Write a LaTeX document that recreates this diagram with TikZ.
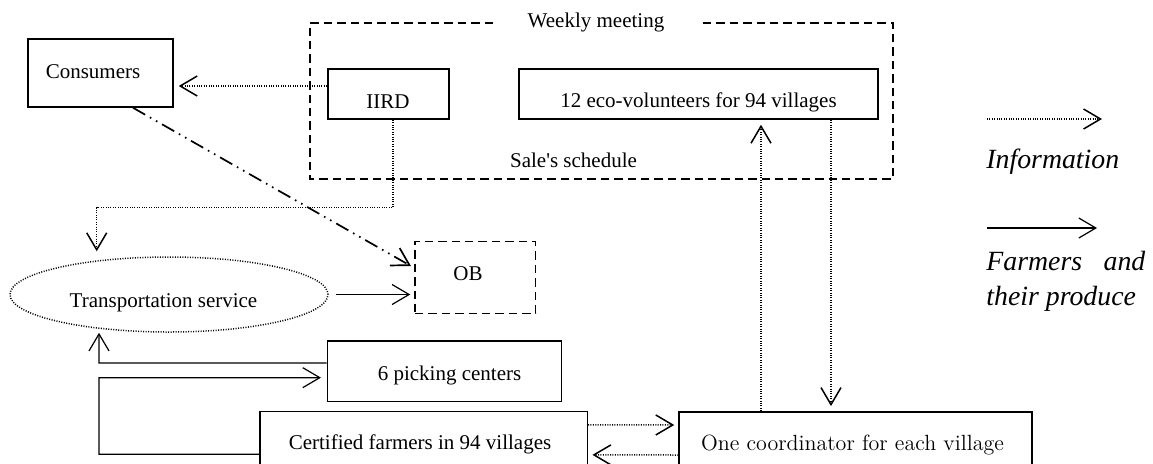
\documentclass[tikz,border=0pt]{standalone}
\usepackage{fontspec}
\newfontfamily\tnr{Liberation Serif}
\usetikzlibrary{arrows.meta,shapes.geometric}
\begin{document}
\begin{tikzpicture}[x=0.5pt,y=-0.5pt,
  txt/.style={font=\tnr\fontsize{10.5}{12}\selectfont, inner sep=0pt, anchor=base},
  lmtxt/.style={font=\fontsize{11}{13}\selectfont, inner sep=0pt, anchor=base},
  legtxt/.style={font=\tnr\itshape\fontsize{13.9}{16}\selectfont, inner sep=0pt, anchor=base west},
  box/.style={draw, line width=0.75pt, inner sep=0pt},
  dbox/.style={draw, line width=0.75pt, dash pattern=on 4.2pt off 2.5pt, inner sep=0pt},
  dline/.style={line width=0.75pt, dash pattern=on 4.2pt off 2.5pt},
  ell/.style={draw, ellipse, line width=0.75pt, dash pattern=on 0.5pt off 0.75pt, inner sep=0pt},
  tip/.style={-{Straight Barb[length=8.5pt,width=10pt]}},
  info/.style={tip, line width=0.75pt, dash pattern=on 0.5pt off 0.7pt},
  prod/.style={tip, line width=0.6pt},
  ddot/.style={tip, line width=0.85pt, dash pattern=on 7pt off 2.7pt on 0.8pt off 2.7pt on 0.8pt off 2.7pt}
]
\useasboundingbox (0,0) rectangle (1153,463);

% boxes
\node[box, minimum width=72.5pt, minimum height=34pt] (cons) at (100.5,73) {};
\node[box, minimum width=60.5pt, minimum height=25pt] (iird) at (388.5,94) {};
\node[box, minimum width=179.5pt, minimum height=25pt] (eco) at (698.5,94) {};
\node[ell, minimum width=159pt, minimum height=37.5pt] (trans) at (169,294.5) {};
\node[dbox, minimum width=60.35pt, minimum height=35.8pt] (ob) at (475.35,277.5) {};
\node[box, minimum width=117.2pt, minimum height=30.35pt] (pick) at (444.5,371.35) {};
\node[box, minimum width=163.65pt, minimum height=34.15pt] (cert) at (423.65,445.85) {};
\node[box, minimum width=176.5pt, minimum height=34pt] (coord) at (855.5,446) {};

% meeting frame
\coordinate (m1) at (493,23);
\coordinate (m2) at (310,23);
\coordinate (m3) at (310,179);
\coordinate (m4) at (893,179);
\coordinate (m5) at (893,23);
\coordinate (m6) at (702,23);
\draw[dline] (m1) -- (m2) -- (m3) -- (m4) -- (m5) -- (m6);

% texts
\node[txt] (tcons) at (93,78) {Consumers};
\node[txt] (tiird) at (388,108.5) {IIRD};
\node[txt] (teco) at (698.5,107.5) {12 eco-volunteers for 94 villages};
\node[txt] (tweek) at (596,27) {Weekly meeting};
\node[txt] (tsale) at (573.5,167.5) {Sale's schedule};
\node[txt] (ttrans) at (163.5,307) {Transportation service};
\node[txt] (tob) at (468,280) {OB};
\node[txt] (tpick) at (449.5,380.3) {6 picking centers};
\node[txt] (tcert) at (420,449.5) {Certified farmers in 94 villages};
\node[lmtxt] (tcoord) at (852.5,450) {One coordinator for each village};

% connectors
\draw[info] ([yshift=4pt]iird.west) -- ([xshift=2.5pt,yshift=-6.5pt]cons.east);
\coordinate (k1) at (96.7,207.7);
\draw[info, shorten >=2.5pt] ([xshift=2.25pt]iird.south) |- (k1) -- (k1 |- trans.north);
\draw[ddot] ([xshift=16.25pt]cons.south) -- ([xshift=-1.65pt,yshift=5.75pt]ob.west);
\draw[prod, shorten <=3.5pt, shorten >=2pt] (trans.east) -- (trans.east -| ob.west);
\coordinate (k2) at (99,363);
\draw[prod] ([yshift=4.2pt]pick.west) -- (k2) -- (k2 |- trans.south);
\coordinate (k3) at (99,454.3);
\coordinate (k4) at (99,377.7);
\draw[prod, shorten >=2.8pt] ([yshift=-4.15pt]cert.west) -- (k3) -- (k4) -- ([yshift=-3.15pt]pick.west);
\draw[info, shorten >=2pt] ([yshift=10.5pt]cert.east) -- ([yshift=10.5pt]coord.west);
\draw[info, shorten >=2.2pt] ([yshift=-4.5pt]coord.west) -- ([yshift=-4.5pt]cert.east);
\draw[info, shorten >=2.5pt] ([xshift=-47.25pt]coord.north) -- ([xshift=31.25pt]eco.south);
\draw[info, shorten >=2.6pt] ([xshift=66.25pt]eco.south) -- ([xshift=-12.25pt]coord.north);

% legend
\coordinate (g1) at (987,119);
\coordinate (g2) at (1102,119);
\draw[info] (g1) -- (g2);
\node[legtxt] (linfo) at (986,168) {Information};
\coordinate (g3) at (987,228);
\coordinate (g4) at (1097,228);
\draw[prod] (g3) -- (g4);
\node[legtxt] (lfarm) at (986,270) {\hbox to 79.5pt{Farmers\hfill and}};
\node[legtxt] (lprod) at (986,305) {their produce};
\end{tikzpicture}
\end{document}
